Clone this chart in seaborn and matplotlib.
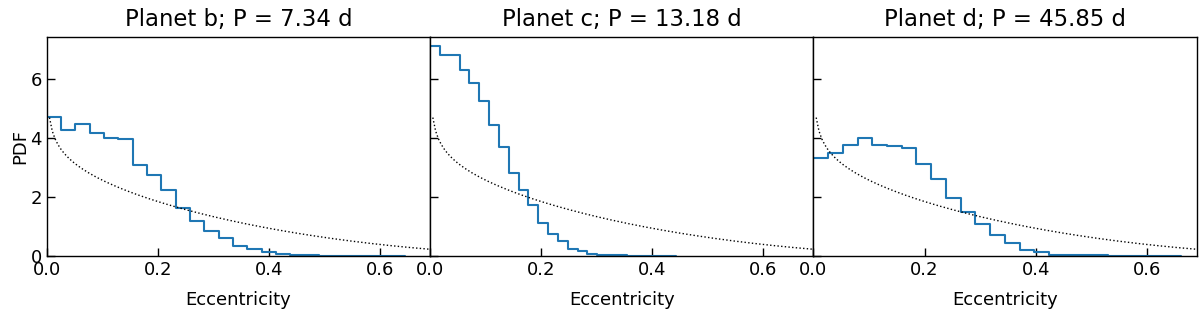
import math
import numpy as np
import pandas as pd
import matplotlib
matplotlib.use("Agg")
import matplotlib.pyplot as plt
import seaborn as sns

# ---- data ----
titles = ["Planet b; P = 7.34 d", "Planet c; P = 13.18 d", "Planet d; P = 45.85 d"]
ecc_max = [0.645, 0.4425, 0.6625]      # upper edge of each histogram's range (25 bins from 0)
pdf_b = [4.72, 4.28, 4.47, 4.17, 4.01, 3.95, 3.07, 2.75, 2.24, 1.63, 1.20, 0.86, 0.60,
         0.34, 0.23, 0.12, 0.07, 0.03, 0.02, 0.015, 0.01, 0.01, 0.005, 0.005, 0.005]
pdf_c = [7.11, 6.79, 6.81, 6.30, 5.87, 5.26, 4.43, 3.69, 2.82, 2.22, 1.73, 1.10, 0.74,
         0.52, 0.25, 0.16, 0.08, 0.05, 0.03, 0.02, 0.015, 0.01, 0.01, 0.005, 0.005]
pdf_d = [3.30, 3.48, 3.75, 4.00, 3.76, 3.72, 3.64, 3.10, 2.61, 1.97, 1.50, 1.09, 0.71,
         0.45, 0.20, 0.12, 0.05, 0.03, 0.02, 0.02, 0.01, 0.01, 0.01, 0.005, 0.005]
hist_values = [pdf_b, pdf_c, pdf_d]

# Beta-distribution eccentricity prior (dotted curve)
beta_a, beta_b = 0.867, 3.03
prior_e = np.linspace(0, 1, 200)[1:-1]
beta_norm = math.gamma(beta_a) * math.gamma(beta_b) / math.gamma(beta_a + beta_b)
prior_pdf = prior_e ** (beta_a - 1) * (1 - prior_e) ** (beta_b - 1) / beta_norm

x_ticks = [0.0, 0.2, 0.4, 0.6]
y_ticks = [0, 2, 4, 6]

# ---- plotting ----
sns.set_style("ticks")
plt.rcParams["font.family"] = ["DejaVu Sans"]
plt.rcParams["text.color"] = "black"
plt.rcParams["axes.labelcolor"] = "black"
plt.rcParams["xtick.color"] = "black"
plt.rcParams["ytick.color"] = "black"

fig, axes = plt.subplots(1, 3, figsize=(12, 3.14), dpi=100, sharey=True)
fig.subplots_adjust(left=0.0389, right=0.9973, top=0.883, bottom=0.1847, wspace=0)

for i, ax in enumerate(axes):
    vals = hist_values[i]
    n = len(vals)
    width = ecc_max[i] / n
    centers = (np.arange(n) + 0.5) * width
    df = pd.DataFrame({"e": centers, "w": vals})
    sns.histplot(data=df, x="e", weights="w", bins=n, binrange=(0, ecc_max[i]),
                 stat="count", element="step", fill=False, color="#1f77b4",
                 linewidth=1.5, ax=ax)
    pr = pd.DataFrame({"e": prior_e, "pdf": prior_pdf})
    sns.lineplot(data=pr, x="e", y="pdf", color="black", linestyle=":",
                 linewidth=1.0, ax=ax)
    ax.set_xlim(0, 0.69)
    ax.set_ylim(0, 7.42)
    ax.set_xticks(x_ticks)
    ax.set_xticklabels([f"{t:.1f}" for t in x_ticks])
    ax.set_yticks(y_ticks)
    ax.tick_params(direction="in", length=6, width=1, labelsize=13,
                   top=False, right=False, colors="black")
    for s in ax.spines.values():
        s.set_visible(True)
        s.set_linewidth(1.0)
        s.set_color("black")
    ax.set_title(titles[i], fontsize=16.4, pad=8, color="black")
    ax.set_xlabel("Eccentricity", fontsize=13, labelpad=9)
    if i == 0:
        ax.set_ylabel("PDF", fontsize=13, labelpad=1)
    else:
        ax.set_ylabel("")
        ax.tick_params(labelleft=False)

fig.savefig("out.png", dpi=100)
